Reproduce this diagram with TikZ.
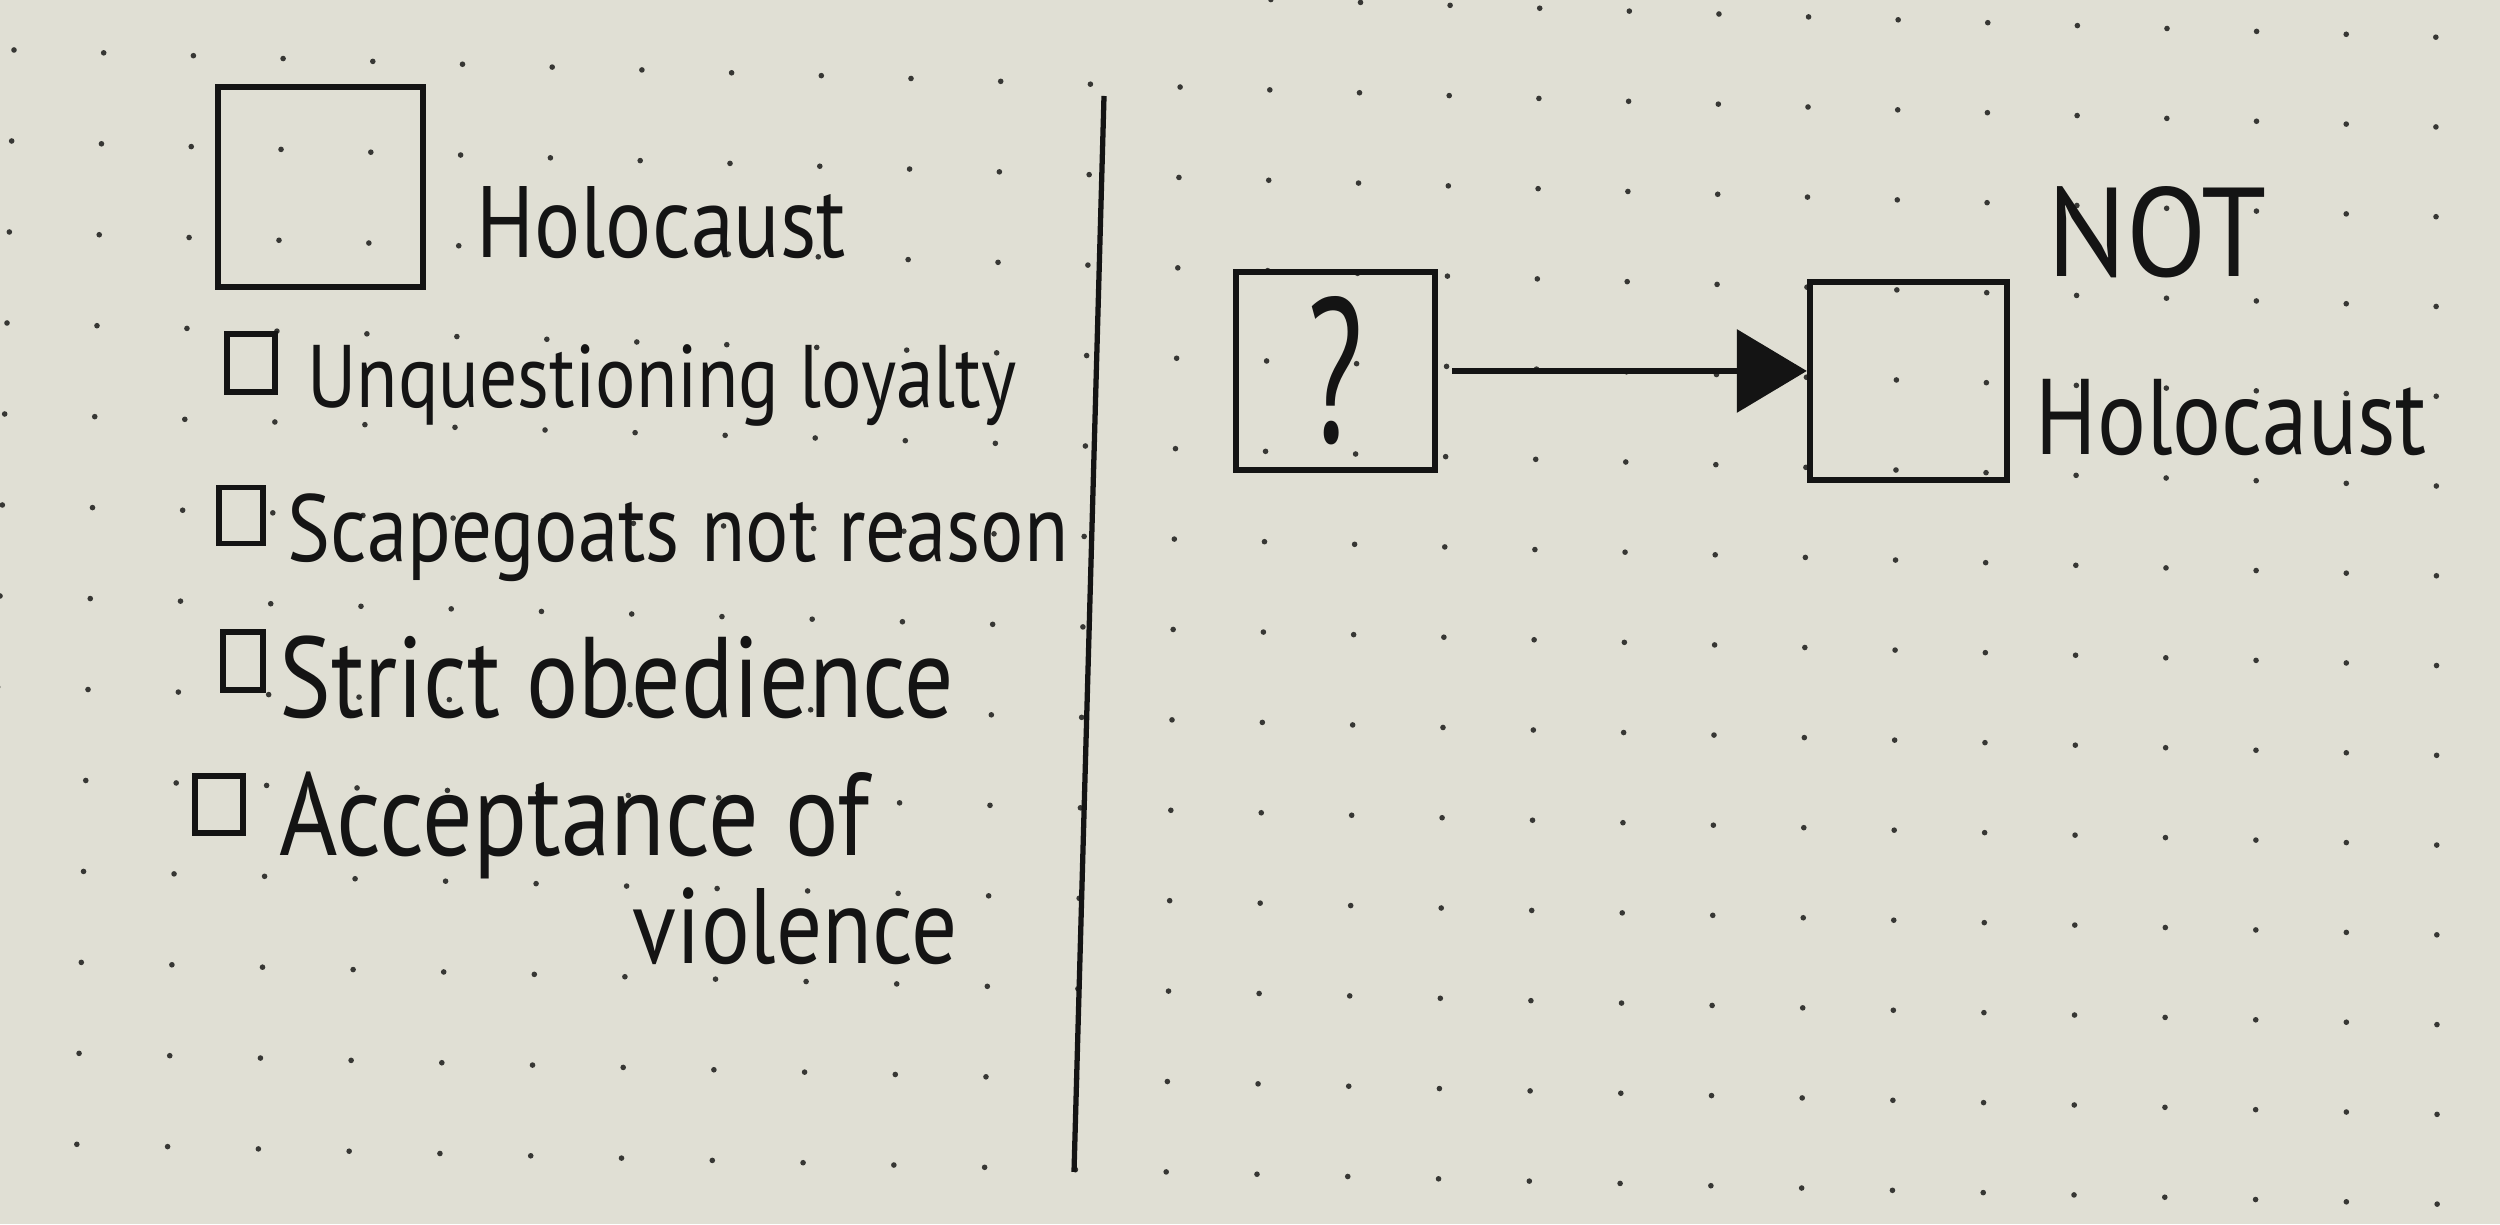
\documentclass[tikz,border=0pt]{standalone}
\usepackage{fontspec}
\usepackage{graphicx}
\usetikzlibrary{arrows.meta}

\newfontfamily\handfont[FakeStretch=0.85]{PT Sans}
\definecolor{paperc}{RGB}{224,223,212}
\definecolor{inkc}{RGB}{20,20,20}
\definecolor{dotc}{RGB}{55,55,52}

% fit a handwritten line to its measured width
\newcommand{\fitw}[2]{\resizebox{#1}{!}{#2}}

\tikzset{
  ink/.style={draw=inkc, line width=1.8pt},
  bigbox/.style={ink, minimum width=2cm, minimum height=2cm, inner sep=0pt},
  tickbox/.style={ink, line width=1.6pt, minimum width=0.44cm, minimum height=0.56cm, inner sep=0pt},
  hand/.style={inner sep=0pt, anchor=base west, text=inkc, font=\handfont},
}

\begin{document}
\begin{tikzpicture}
% Paper
\useasboundingbox (0,0) rectangle (25,12.24);
\clip (0,0) rectangle (25,12.24);
\fill[paperc] (0,0) rectangle (25,12.24);

% Dot grid (slightly skewed, as photographed)
\foreach \i in {0,...,27}
  \foreach \j in {-1,...,12}
    \fill[dotc] ({0.14+0.897*\i-0.0233*\j+0.000895*\i*\j},{11.74-0.0285*\i-0.910*\j+0.000463*\i*\j}) circle (0.028);

% Left half: legend box and checklist
\node[bigbox, minimum width=2.05cm] (holobox) at (3.205,10.37) {};
\node[hand] (holotext) at (4.76,9.66) {\fitw{3.69cm}{Holocaust}};

\node[tickbox, minimum width=0.48cm, minimum height=0.58cm] (tick1) at (2.51,8.61) {};
\node[hand] (item1) at (3.07,8.16) {\fitw{7.09cm}{Unquestioning loyalty}};

\node[tickbox] (tick2) at (2.41,7.085) {};
\node[hand] (item2) at (2.87,6.62) {\fitw{7.81cm}{Scapegoats not reason}};

\node[tickbox, minimum width=0.40cm, minimum height=0.58cm] (tick3) at (2.43,5.63) {};
\node[hand] (item3) at (2.79,5.06) {\fitw{6.74cm}{Strict obedience}};

\node[tickbox, minimum width=0.48cm, minimum height=0.57cm] (tick4) at (2.19,4.195) {};
\node[hand] (item4) at (2.79,3.68) {\fitw{5.9cm}{Acceptance of}};
\node[hand] (item4b) at (6.32,2.60) {\fitw{3.25cm}{violence}};

% Divider
\coordinate (divtop) at (11.04,11.28);
\coordinate (divbot) at (10.74,0.52);
\draw[ink, line width=1.5pt] (divtop) -- (divbot);

% Right half: ? -> NOT Holocaust
\node[bigbox, minimum width=1.99cm, minimum height=1.98cm] (qbox) at (13.355,8.53) {};
\node[inner sep=0pt, text=inkc, font=\handfont] (qmark) at (qbox) {\resizebox{0.56cm}{1.46cm}{?}};

\node[bigbox, minimum width=1.97cm, minimum height=1.98cm] (notbox) at (19.085,8.43) {};
\node[hand] (nottext) at (20.47,9.47) {\resizebox{2.19cm}{0.9cm}{NOT}};
\node[hand] (notholo) at (20.35,7.69) {\fitw{3.91cm}{Holocaust}};

\draw[ink, line width=1.9pt, -{Triangle[length=7mm,width=8.2mm]}, shorten <=0.14cm] (qbox.east) -- (qbox.east -| notbox.west);
\end{tikzpicture}
\end{document}
